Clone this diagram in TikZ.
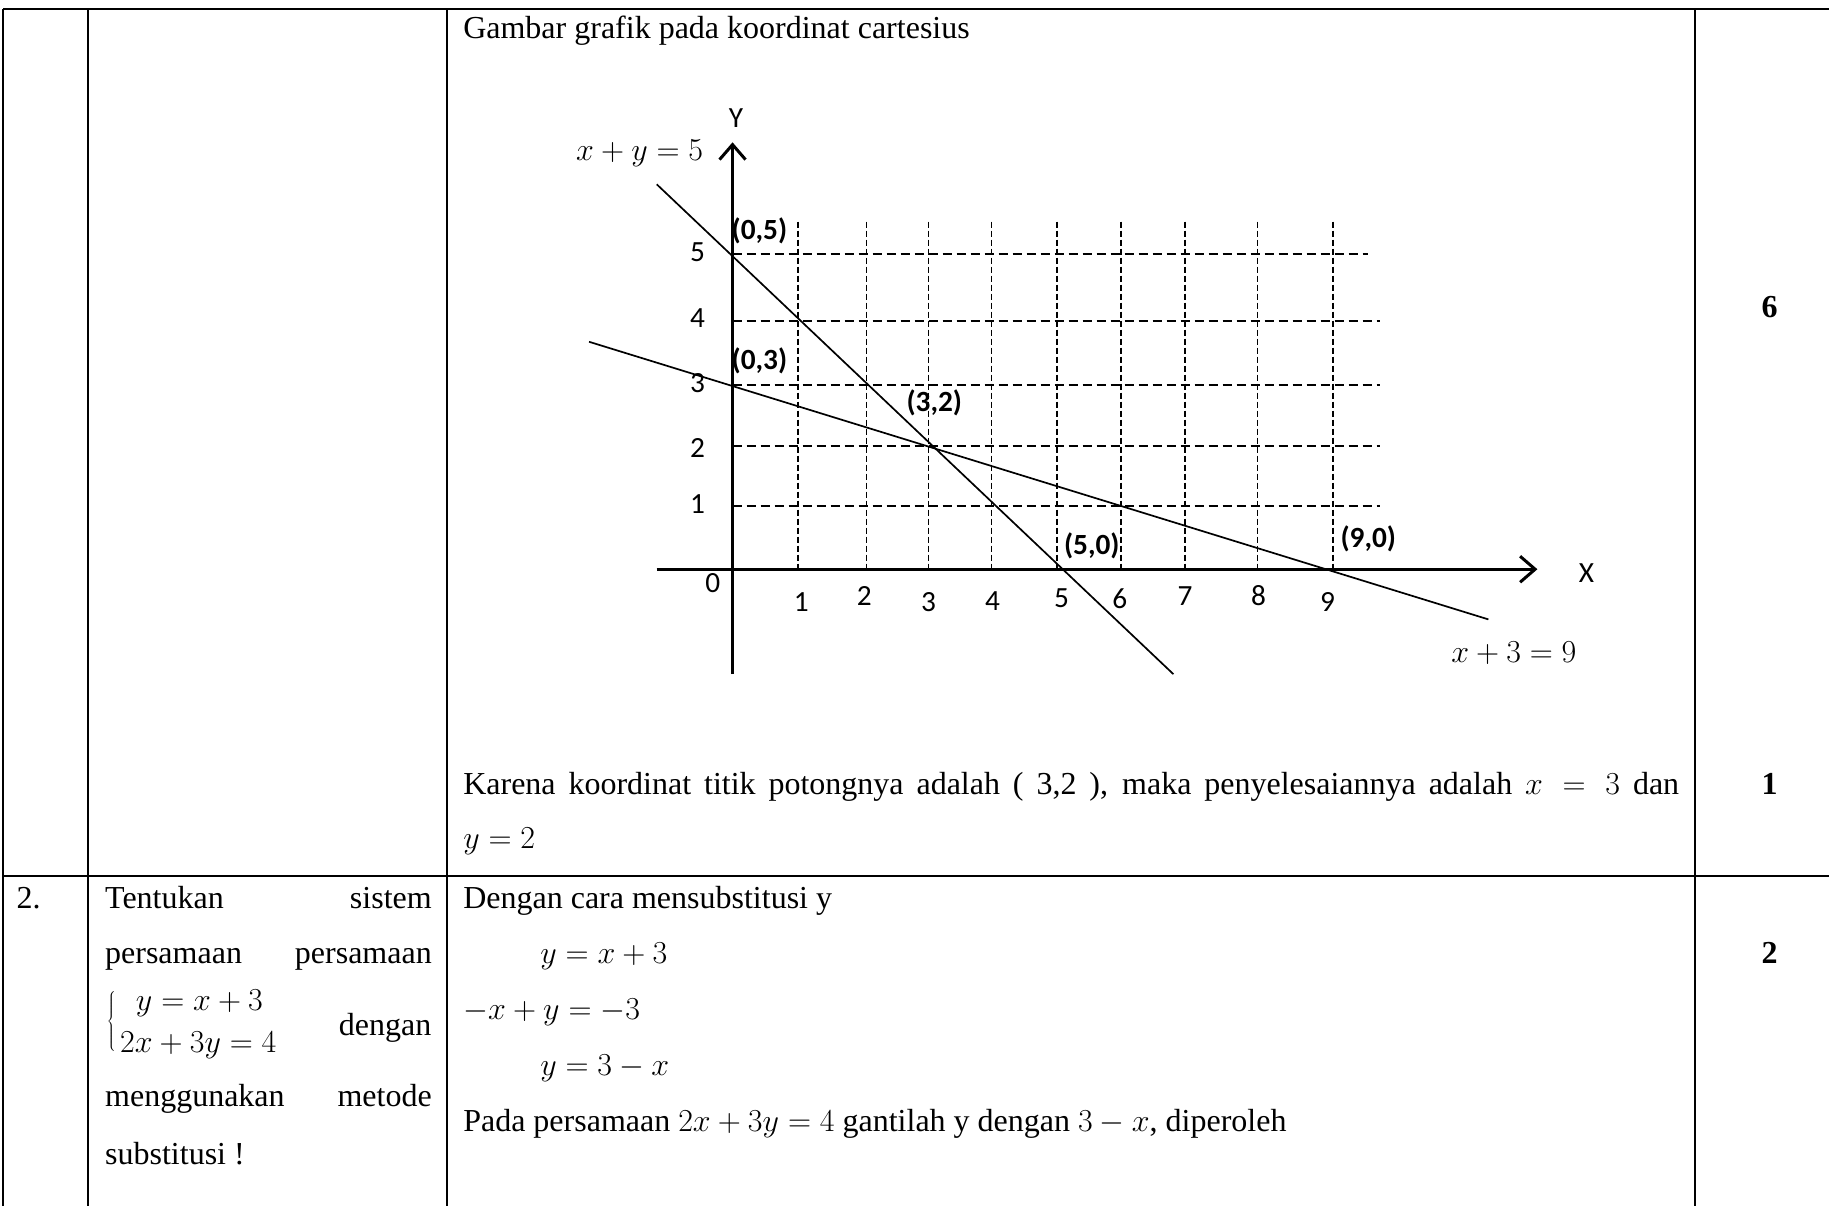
\RequirePackage{fix-cm}
\documentclass[tikz,border=0pt]{standalone}
\usepackage{fontspec}
\setmainfont{Liberation Serif}
\newfontfamily\grf{Carlito}
\usetikzlibrary{arrows.meta}
\begin{document}
\begin{tikzpicture}[x=1.1665pt,y=-1.1665pt,
  rule/.style={line width=2.6pt},
  txt/.style={inner sep=0pt, anchor=base west, font=\fontsize{32}{38}\selectfont},
  txte/.style={inner sep=0pt, anchor=base east, font=\fontsize{32}{38}\selectfont},
  score/.style={inner sep=0pt, anchor=base, font=\fontsize{32}{38}\selectfont\bfseries},
  tick/.style={inner sep=0pt, font=\fontsize{29.3}{34}\selectfont\grf},
  ptlab/.style={inner sep=0pt, font=\fontsize{29.3}{34}\selectfont\grf\bfseries},
  gridh/.style={line width=2pt, dash pattern=on 9pt off 5pt},
  gridv/.style={line width=1.6pt, dash pattern=on 6pt off 3pt},
  axis/.style={line width=3.2pt, -{Straight Barb[length=15pt,width=26pt,line width=3pt]}},
  fline/.style={line width=1.7pt}]
\useasboundingbox (0,0) rectangle (1568,1034);
% table
\draw[rule] (2.6,7.7) -- (1568,7.7);
\draw[rule] (2.6,751) -- (1568,751);
\foreach \xx in {2.6,75.4,383.2,1453} \draw[rule] (\xx,7.7) -- (\xx,1034);
% row 1 text
\node[txt] (t1) at (397,33) {Gambar grafik pada koordinat cartesius};
\node[txt] (t2) at (397,681) {\makebox[1216pt][s]{Karena koordinat titik potongnya adalah ( 3,2 ), maka penyelesaiannya adalah $x=3$ dan}};
\node[txt] (t3) at (397,727) {$y=2$};
\node[score] (s6) at (1517,272) {6};
\node[score] (s1) at (1517,681) {1};
% row 2
\node[txt] (n2) at (14,779) {2.};
\node[txt] (q1) at (90,779) {\makebox[326.6pt][s]{Tentukan sistem}};
\node[txt] (q2) at (90,826) {\makebox[326.6pt][s]{persamaan persamaan}};
\node[inner sep=0pt, font=\fontsize{32}{38}\selectfont] (br) at (96,876) {$\left\{\vrule height 22pt depth 22pt width 0pt\right.$};
\node[txt, anchor=base] (q3a) at (171,866) {$y=x+3$};
\node[txt, anchor=base] (q3b) at (170,902) {$2x+3y=4$};
\node[txte] (q3c) at (370,888) {dengan};
\node[txt] (q4) at (90,949) {\makebox[326.6pt][s]{menggunakan metode}};
\node[txt] (q5) at (90,998) {substitusi !};
\node[txt] (a1) at (397,779) {Dengan cara mensubstitusi y};
\node[txt] (a2) at (463,826) {$y=x+3$};
\node[txt] (a3) at (397,874) {$-x+y=-3$};
\node[txt] (a4) at (463,922) {$y=3-x$};
\node[txt] (a5) at (397,970) {Pada persamaan $2x+3y=4$ gantilah y dengan $3-x$, diperoleh};
\node[score] (s2) at (1517,826) {2};
% grid
\foreach \xx in {684,743,796,850,906,961,1016,1078,1143} \draw[gridv] (\xx,190) -- (\xx,488);
\foreach \yy in {434,382,330,275} \draw[gridh] (628,\yy) -- (1183,\yy);
\draw[gridh] (628,218) -- (1173,218);
% axes
\coordinate (xs) at (563,488); \coordinate (xe) at (1318,488);
\coordinate (ys) at (628,578); \coordinate (ye) at (628,122);
\draw[axis] (xs) -- (xe);
\draw[axis] (ys) -- (ye);
% lines
\coordinate (l1a) at (563,158); \coordinate (l1b) at (1006,578);
\coordinate (l2a) at (505,293); \coordinate (l2b) at (1276,531);
\draw[fline] (l1a) -- (l1b);
\draw[fline] (l2a) -- (l2b);
% labels
\node[tick] (Y) at (631,101) {Y};
\node[tick] (X) at (1360,491) {X};
\node[inner sep=0pt, anchor=base east, font=\fontsize{32}{38}\selectfont] (e1) at (603,138) {$x+y=5$};
\node[inner sep=0pt, anchor=base west, font=\fontsize{32}{38}\selectfont] (e2) at (1244,568) {$x+3=9$};
\node[tick] at (598,216) {5};
\node[tick] at (598,273) {4};
\node[tick] at (598,328) {3};
\node[tick] at (598,384) {2};
\node[tick] at (598,432) {1};
\node[tick] at (611,500) {0};
\node[tick] at (687,516) {1};
\node[tick] at (741,511) {2};
\node[tick] at (796,516) {3};
\node[tick] at (851,515) {4};
\node[tick] at (910,513) {5};
\node[tick] at (960,513) {6};
\node[tick] at (1016,511) {7};
\node[tick] at (1079,511) {8};
\node[tick] at (1138,516) {9};
\node[ptlab] (p05) at (651,198) {(0,5)};
\node[ptlab] (p03) at (651,309) {(0,3)};
\node[ptlab] (p32) at (801,345) {(3,2)};
\node[ptlab] (p50) at (936,468) {(5,0)};
\node[ptlab] (p90) at (1173,462) {(9,0)};
\end{tikzpicture}
\end{document}
